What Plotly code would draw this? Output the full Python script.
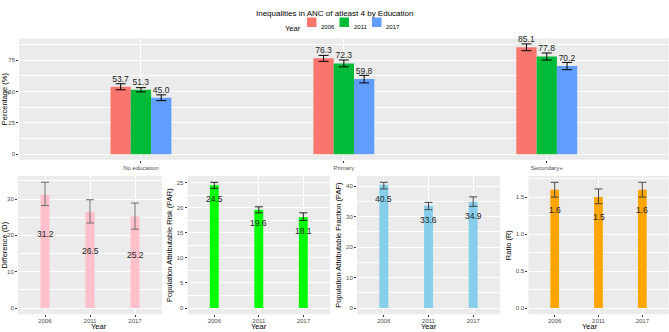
import plotly.graph_objects as go

# ---------------- data ----------------
education = ["No education", "Primary", "Secondary+"]
years = ["2006", "2011", "2017"]

pct_2006 = [53.7, 76.3, 85.1]
pct_2011 = [51.3, 72.3, 77.8]
pct_2017 = [45.0, 59.8, 70.2]
lo_2006 = [51.3, 73.9, 82.4]
hi_2006 = [56.1, 78.7, 87.8]
lo_2011 = [49.6, 69.6, 75.0]
hi_2011 = [53.0, 75.0, 80.6]
lo_2017 = [42.7, 56.8, 67.3]
hi_2017 = [47.3, 62.8, 73.1]

d_val = [31.2, 26.5, 25.2]
d_lo = [28.2, 23.4, 21.7]
d_hi = [34.6, 29.8, 28.9]

par_val = [24.5, 19.6, 18.1]
par_lo = [23.9, 19.0, 17.5]
par_hi = [25.1, 20.2, 19.0]

paf_val = [40.5, 33.6, 34.9]
paf_lo = [39.1, 32.3, 33.4]
paf_hi = [41.3, 34.7, 36.5]

r_val = [1.6, 1.5, 1.6]
r_lo = [1.5, 1.41, 1.5]
r_hi = [1.7, 1.61, 1.7]

year_colors = ["#F8766D", "#00BA38", "#619CFF"]

FONT = "Liberation Sans, Arial, sans-serif"
W, H = 669, 332


def px_x(a, b):
    return [a / W, b / W]


def px_y(top, bottom):
    return [(H - bottom) / H, (H - top) / H]


def rng(lo_list, hi_list):
    mn = min(0, min(lo_list))
    mx = max(hi_list)
    e = 0.05 * (mx - mn)
    return [mn - e, mx + e]


fig = go.Figure()

# ---------------- top panel ----------------
top_series = [
    (years[0], pct_2006, lo_2006, hi_2006),
    (years[1], pct_2011, lo_2011, hi_2011),
    (years[2], pct_2017, lo_2017, hi_2017),
]
for (yr, vals, lo, hi), col in zip(top_series, year_colors):
    fig.add_trace(go.Bar(
        x=education, y=vals, name=yr, marker=dict(color=col, line=dict(width=0)),
        error_y=dict(type="data", symmetric=False,
                     array=[h - v for h, v in zip(hi, vals)],
                     arrayminus=[v - l for v, l in zip(vals, lo)],
                     color="black", thickness=1, width=5),
        texttemplate="%{y:.1f}", textposition="outside", constraintext="none",
        textfont=dict(size=8.5, color="#222222", family=FONT), cliponaxis=False,
        xaxis="x", yaxis="y", showlegend=False,
    ))

all_lo = lo_2006 + lo_2011 + lo_2017
all_hi = hi_2006 + hi_2011 + hi_2017

# ---------------- bottom panels ----------------
panels = [
    ("x2", "y2", d_val, d_lo, d_hi, "pink", "#6e6e6e", "Difference (D)", -39, 10, 5),
    ("x3", "y3", par_val, par_lo, par_hi, "#00FF00", "#222222", "Population Attributable Risk (PAR)", -13.5, 5, 2.5),
    ("x4", "y4", paf_val, paf_lo, paf_hi, "skyblue", "#444444", "Population Attributable Fraction (PAF)", -14, 10, 5),
    ("x5", "y5", r_val, r_lo, r_hi, "orange", "#444444", "Ratio (R)", -20, 0.5, 0.25),
]

annotations = []
for xa, ya, vals, lo, hi, col, ecol, title, shift, dt, mdt in panels:
    fig.add_trace(go.Bar(
        x=years, y=vals, width=0.2, marker=dict(color=col, line=dict(width=0)),
        error_y=dict(type="data", symmetric=False,
                     array=[h - v for h, v in zip(hi, vals)],
                     arrayminus=[v - l for v, l in zip(vals, lo)],
                     color=ecol, thickness=1, width=4),
        xaxis=xa, yaxis=ya, showlegend=False,
    ))
    for idx, v in enumerate(vals):
        annotations.append(dict(
            x=idx, y=v, xref=xa, yref=ya, text=f"{v:.1f}", showarrow=False,
            yshift=shift, font=dict(size=8.5, color="#222222", family=FONT),
        ))

# ---------------- axes ----------------
tickfont = dict(size=6, color="#4D4D4D", family=FONT)
titlefont = dict(size=7.5, color="black", family=FONT)
common_x = dict(showgrid=True, gridcolor="white", gridwidth=1, zeroline=False,
                ticks="outside", ticklen=2, tickcolor="#333333", tickwidth=0.8,
                tickfont=tickfont, showline=False, type="category", range=[-0.6, 2.6],
                automargin=False)
common_y = dict(showgrid=True, gridcolor="white", gridwidth=1, zeroline=False,
                ticks="outside", ticklen=2, tickcolor="#333333", tickwidth=0.8,
                tickfont=tickfont, showline=False, automargin=False)

layout_axes = {}
layout_axes["xaxis"] = dict(common_x, domain=px_x(19.2, 668.5), anchor="y")
layout_axes["yaxis"] = dict(common_y, domain=px_y(38.4, 159.8), anchor="x",
                            range=rng(all_lo, all_hi), tick0=0, dtick=25,
                            minor=dict(dtick=12.5, showgrid=True, gridcolor="white", gridwidth=0.5, ticks=""),
                            title=dict(text="Percentage (%)", font=titlefont, standoff=3))

xdoms = [(18, 162), (187.6, 330), (357, 500), (528.4, 668.6)]
for i, ((xa, ya, vals, lo, hi, col, ecol, title, shift, dt, mdt), (a, b)) in enumerate(zip(panels, xdoms)):
    n = i + 2
    layout_axes[f"xaxis{n}"] = dict(common_x, domain=px_x(a, b), anchor=ya, ticklabelstandoff=-2)
    fmt = ".1f" if dt < 1 else ""
    layout_axes[f"yaxis{n}"] = dict(common_y, domain=px_y(176, 314.3), anchor=xa,
                                    range=rng(lo, hi), tick0=0, dtick=dt, tickformat=fmt,
                                    minor=dict(dtick=mdt, showgrid=True, gridcolor="white", gridwidth=0.5, ticks=""),
                                    title=dict(text=title, font=titlefont, standoff=3))
    # x-axis title "Year" under each panel
    annotations.append(dict(x=(a + b) / 2 / W, y=0, xref="paper", yref="paper",
                            text="Year", showarrow=False, yanchor="bottom", borderpad=0,
                            font=dict(size=7.5, color="black", family=FONT)))

# ---------------- legend (drawn as layout items) ----------------
shapes = []
leg_y0, leg_y1 = (H - 27) / H, (H - 17.5) / H
sw_x = [(307, 316.5), (339.5, 349), (372, 381.5)]
lbl_x = [328, 360.5, 393]
for (a, b), col in zip(sw_x, year_colors):
    shapes.append(dict(type="rect", xref="paper", yref="paper", x0=a / W, x1=b / W,
                       y0=leg_y0, y1=leg_y1, fillcolor=col, line=dict(width=0)))
for yr, lx in zip(years, lbl_x):
    annotations.append(dict(x=lx / W, y=(H - 22) / H, xref="paper", yref="paper", text=yr,
                            showarrow=False, font=dict(size=6, color="black", family=FONT)))
annotations.append(dict(x=303 / W, y=(H - 22) / H, xref="paper", yref="paper", text="Year",
                        xanchor="right", showarrow=False, font=dict(size=7.5, color="black", family=FONT)))
annotations.append(dict(x=0.5, y=(H - 7) / H, xref="paper", yref="paper",
                        text="Inequalities in ANC of atleast 4 by Education",
                        showarrow=False, font=dict(size=8, color="black", family=FONT)))

fig.update_layout(
    width=W, height=H, margin=dict(l=0, r=0, t=0, b=0),
    paper_bgcolor="white", plot_bgcolor="#EBEBEB",
    barmode="group", bargap=0.7, bargroupgap=0,
    font=dict(family=FONT),
    annotations=annotations, shapes=shapes,
    **layout_axes,
)

fig.write_html("out.html", config={"displayModeBar": False},
               post_script="document.body.style.margin='0';document.body.style.overflow='hidden';")
